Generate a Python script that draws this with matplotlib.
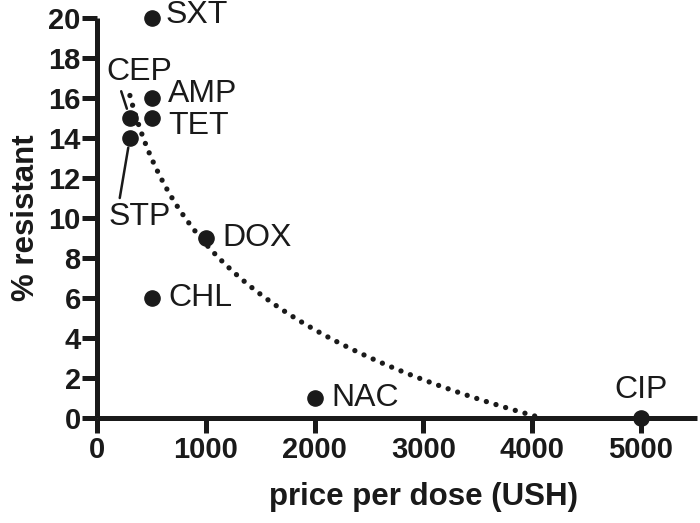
import numpy as np
import matplotlib
matplotlib.use("Agg")
import matplotlib.pyplot as plt

# antibiotic price vs resistance
drugs = ["SXT", "CEP", "AMP", "TET", "STP", "DOX", "CHL", "NAC", "CIP"]
price = [500, 300, 500, 500, 300, 1000, 500, 2000, 5000]
resistant = [20, 15, 16, 15, 14, 9, 6, 1, 0]

x_ticks = [0, 1000, 2000, 3000, 4000, 5000]
y_ticks = list(range(0, 21, 2))

# label offsets in points (dx, dy), alignment, leader line
label_pos = {
    "SXT": ((10, 2), "left", None),
    "CEP": ((7, 33), "center", (0.2, 0.0)),
    "AMP": ((12, 3), "left", None),
    "TET": ((12, -6), "left", None),
    "STP": ((7, -57), "center", (0.17, 1.0)),
    "DOX": ((12, 0), "left", None),
    "CHL": ((12, 0), "left", None),
    "NAC": ((12, 0), "left", None),
    "CIP": ((0, 20), "center", None),
}

plt.rcParams["font.family"] = ["Liberation Sans", "DejaVu Sans"]
ink = "#1a1a1a"

fig = plt.figure(figsize=(7, 5.23), dpi=100)
ax = fig.add_axes([0.139, 0.2008, 0.857, 0.7648])

# semilog linear regression: resistance ~ ln(price)
px = np.array(price, dtype=float)
slope, icpt = np.polyfit(np.log(px), resistant, 1)
xs = np.linspace(px.min(), px.max(), 400)
ax.plot(xs, icpt + slope * np.log(xs), color=ink, lw=3.8,
        linestyle=(0, (0.01, 1.9)), dash_capstyle="round", zorder=2)

ax.scatter(price, resistant, s=120, color=ink, zorder=3, clip_on=False)

for name, xv, yv in zip(drugs, price, resistant):
    (dx, dy), ha, rel = label_pos[name]
    kw = {}
    if rel is not None:
        kw["arrowprops"] = dict(arrowstyle="-", color=ink, lw=1.8,
                                relpos=rel, shrinkA=1, shrinkB=7)
    ax.annotate(name, (xv, yv), xytext=(dx, dy), textcoords="offset points",
                ha=ha, va="center", fontsize=23, color=ink, **kw)

ax.set_xlim(0, 5520)
ax.set_ylim(0, 20)
ax.set_xticks(x_ticks)
ax.set_yticks(y_ticks)
ax.tick_params(width=3.6, length=10.5, color=ink, labelcolor=ink,
               labelsize=21)
ax.tick_params(axis="x", pad=2.5)
ax.tick_params(axis="y", pad=1.5)
for lab in ax.get_xticklabels() + ax.get_yticklabels():
    lab.set_fontweight("bold")

ax.spines["top"].set_visible(False)
ax.spines["right"].set_visible(False)
for s in ("left", "bottom"):
    ax.spines[s].set_linewidth(3.6)
    ax.spines[s].set_color(ink)
    ax.spines[s].set_capstyle("butt")

ax.set_xlabel("price per dose (USH)", fontsize=22.5, fontweight="bold",
              labelpad=8, color=ink)
ax.xaxis.set_label_coords(0.544, -0.16)
ax.set_ylabel("% resistant", fontsize=22.5, fontweight="bold",
              labelpad=5, color=ink)

fig.savefig("out.png", dpi=100)
